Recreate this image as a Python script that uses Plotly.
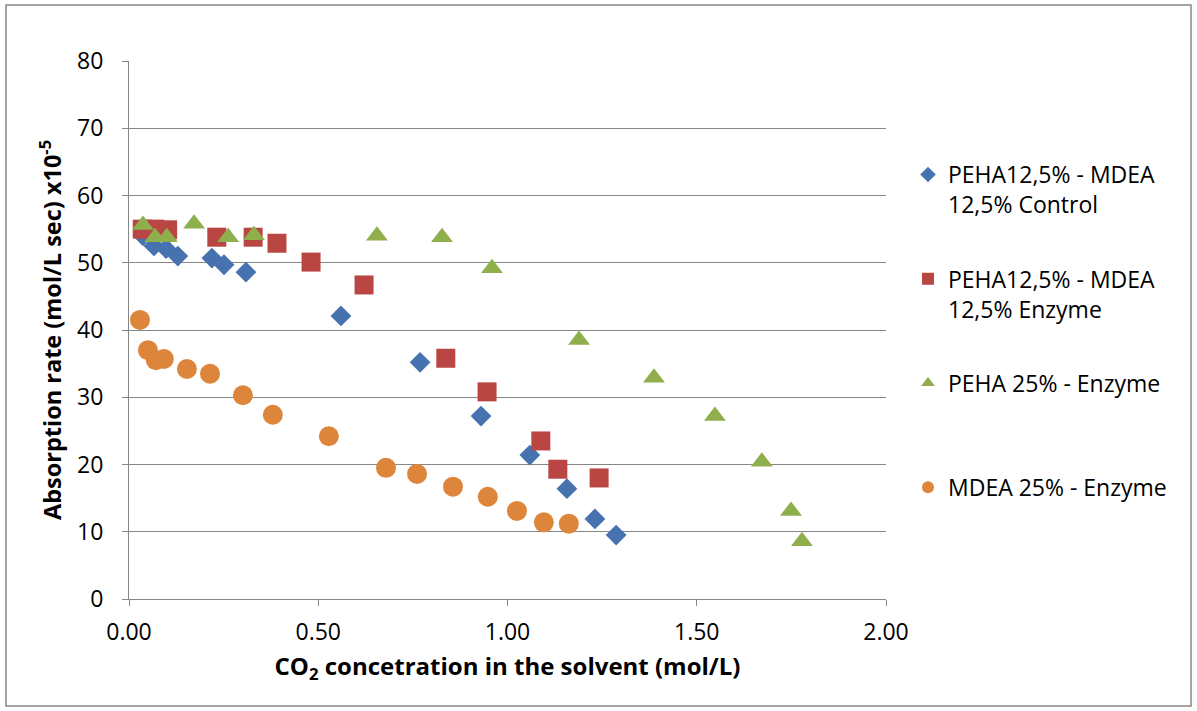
import plotly.graph_objects as go

# ---- data ----
ctrl_x = [0.037, 0.066, 0.098, 0.129, 0.219, 0.251, 0.309, 0.560, 0.769, 0.930, 1.059, 1.157, 1.231, 1.287]
ctrl_y = [54.0, 52.5, 52.1, 51.0, 50.7, 49.7, 48.6, 42.1, 35.2, 27.2, 21.4, 16.4, 11.9, 9.5]

enz_x = [0.035, 0.068, 0.102, 0.232, 0.328, 0.391, 0.481, 0.621, 0.837, 0.946, 1.088, 1.133, 1.242]
enz_y = [55.0, 55.0, 54.9, 53.8, 53.8, 52.9, 50.1, 46.7, 35.8, 30.8, 23.5, 19.3, 18.0]

peha_x = [0.037, 0.069, 0.100, 0.172, 0.262, 0.330, 0.655, 0.827, 0.959, 1.189, 1.387, 1.548, 1.672, 1.749, 1.778]
peha_y = [55.6, 53.8, 53.8, 55.8, 53.8, 54.1, 54.0, 53.8, 49.2, 38.5, 32.9, 27.2, 20.4, 13.1, 8.6]

mdea_x = [0.029, 0.050, 0.071, 0.092, 0.153, 0.214, 0.301, 0.380, 0.528, 0.679, 0.761, 0.856, 0.948, 1.025, 1.096, 1.162]
mdea_y = [41.5, 37.0, 35.5, 35.7, 34.2, 33.5, 30.3, 27.4, 24.2, 19.5, 18.6, 16.7, 15.2, 13.1, 11.4, 11.2]

names = [
    "PEHA12,5% - MDEA<br>12,5% Control",
    "PEHA12,5% - MDEA<br>12,5% Enzyme",
    "PEHA 25% - Enzyme<br>&nbsp;",
    "MDEA 25% - Enzyme<br>&nbsp;",
]
x_ticks = [0, 0.5, 1.0, 1.5, 2.0]
x_tick_labels = ["0.00", "0.50", "1.00", "1.50", "2.00"]
y_ticks = [0, 10, 20, 30, 40, 50, 60, 70, 80]

FONT = "Open Sans"
GRAY = "#868686"

fig = go.Figure()
series = [
    (ctrl_x, ctrl_y, "diamond", 16, "#4673B0"),
    (enz_x, enz_y, "square", 19, "#BA4643"),
    (peha_x, peha_y, "triangle-up", 19, "#8EAF4C"),
    (mdea_x, mdea_y, "circle", 20, "#DE853C"),
]
for i, (xs, ys, sym, sz, col) in enumerate(series):
    fig.add_trace(go.Scatter(
        x=xs, y=ys, mode="markers", name=names[i], legendgroup=f"g{i}",
        marker=dict(symbol=sym, size=sz, color=col, line=dict(width=0)),
    ))

fig.update_layout(
    width=1197, height=711,
    margin=dict(l=129, r=311, t=61, b=112),
    paper_bgcolor="white", plot_bgcolor="white",
    font=dict(family=FONT, size=23, color="#000000"),
    showlegend=True,
    legend=dict(
        x=(908 - 129) / 757, y=0.829, xanchor="left", yanchor="top",
        font=dict(family=FONT, size=23, color="#000000"),
        valign="top", tracegroupgap=41.5, itemsizing="constant",
        bgcolor="rgba(0,0,0,0)",
    ),
    xaxis=dict(
        range=[0, 2], tickvals=x_ticks, ticktext=x_tick_labels,
        showgrid=False, zeroline=False,
        showline=True, linecolor=GRAY, linewidth=1,
        ticks="outside", ticklen=6, tickcolor=GRAY,
        tickfont=dict(family=FONT, size=23), ticklabelstandoff=6,
        title=dict(text="<b>CO<sub>2</sub> concetration in the solvent (mol/L)</b>",
                   font=dict(family=FONT, size=24), standoff=12),
    ),
    yaxis=dict(
        range=[0, 80], tickvals=y_ticks,
        showgrid=True, gridcolor=GRAY, gridwidth=1, zeroline=False,
        showline=True, linecolor=GRAY, linewidth=1,
        ticks="outside", ticklen=6, tickcolor=GRAY,
        tickfont=dict(family=FONT, size=23), ticklabelstandoff=14,
        title=dict(text="<b>Absorption rate (mol/L sec) x10<sup>-5</sup></b>",
                   font=dict(family=FONT, size=23.5), standoff=8),
    ),
    shapes=[dict(type="rect", xref="paper", yref="paper",
                 x0=(6 - 129) / 757, x1=(1191 - 129) / 757,
                 y0=(599 - 706) / 538, y1=(599 - 5) / 538,
                 line=dict(color=GRAY, width=1.5), fillcolor="rgba(0,0,0,0)", layer="below")],
)

fig.write_html("out.html")
